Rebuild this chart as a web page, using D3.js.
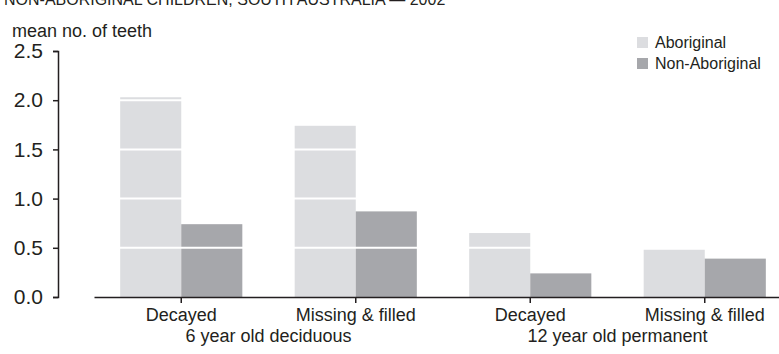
<!DOCTYPE html>
<html>
<head>
<meta charset="utf-8">
<script src="https://cdn.jsdelivr.net/npm/d3@7"></script>
<style>
  body { margin: 0; background: #fff; }
  text { font-family: "Liberation Sans", Arial, sans-serif; fill: #231f20; }
</style>
</head>
<body>
<div id="chart"></div>
<script>
const categorias = ["Decayed", "Missing & filled", "Decayed ", "Missing & filled "];
const grupos = ["6 year old deciduous", "12 year old permanent"];
const series = ["Aboriginal", "Non-Aboriginal"];
const aborigen = [2.03, 1.74, 0.65, 0.48];
const noAborigen = [0.74, 0.87, 0.24, 0.39];
const ticksY = [0, 0.5, 1.0, 1.5, 2.0, 2.5];

const width = 779, height = 354;
const colores = ["#dcdde0", "#a6a7ab"];

const svg = d3.select("#chart")
    .append("svg")
    .attr("width", width)
    .attr("height", height);

// titulo (cortado arriba, como en el original)
svg.append("text")
    .attr("x", 4)
    .attr("y", 5)
    .style("font-size", "16px")
    .text("NON-ABORIGINAL CHILDREN, SOUTH AUSTRALIA \u2014 2002");

svg.append("text")
    .attr("x", 12)
    .attr("y", 37)
    .style("font-size", "18px")
    .text("mean no. of teeth");

const y = d3.scaleLinear().domain([0, 2.5]).range([297, 51]);

const x0 = d3.scaleBand()
    .domain(categorias)
    .range([94, 792])
    .paddingInner(0.3)
    .paddingOuter(0.15);

const x1 = d3.scaleBand()
    .domain(series)
    .range([0, x0.bandwidth()]);

const datos = categorias.map((c, i) => ({cat: c, valores: [aborigen[i], noAborigen[i]]}));

// barras
svg.append("g")
    .selectAll("g")
    .data(datos)
    .enter()
    .append("g")
    .attr("transform", d => "translate(" + x0(d.cat) + ",0)")
    .selectAll("rect")
    .data(d => d.valores.map((v, j) => ({serie: series[j], v: v, j: j})))
    .enter()
    .append("rect")
    .attr("x", d => x1(d.serie))
    .attr("width", x1.bandwidth())
    .attr("y", d => y(d.v))
    .attr("height", d => y(0) - y(d.v))
    .style("fill", d => colores[d.j]);

// lineas blancas de rejilla sobre las barras
svg.append("g")
    .selectAll("line")
    .data(ticksY.slice(1, 5))
    .enter()
    .append("line")
    .attr("x1", 60)
    .attr("x2", width)
    .attr("y1", d => y(d))
    .attr("y2", d => y(d))
    .style("stroke", "#fff")
    .style("stroke-width", 2);

// eje Y
const ejeY = svg.append("g")
    .attr("transform", "translate(58,0)")
    .call(d3.axisLeft(y).tickValues(ticksY).tickFormat(d3.format(".1f")).tickSize(5).tickSizeOuter(5).tickPadding(10));
ejeY.selectAll("text").style("font-size", "21px").style("font-family", "Liberation Sans, Arial, sans-serif").style("fill", "#231f20");
ejeY.selectAll("line, path").style("stroke", "#231f20").style("stroke-width", 1.5);

// eje X
const ejeX = svg.append("g")
    .attr("transform", "translate(0,297)")
    .call(d3.axisBottom(x0).tickSize(6).tickSizeOuter(0).tickFormat(""));
ejeX.selectAll("line, path").style("stroke", "#231f20").style("stroke-width", 1.5);

svg.append("g")
    .selectAll("text")
    .data(categorias)
    .enter()
    .append("text")
    .attr("x", d => x0(d) + x0.bandwidth() / 2)
    .attr("y", 321)
    .attr("text-anchor", "middle")
    .style("font-size", "18px")
    .text(d => d.trim());

svg.append("g")
    .selectAll("text")
    .data(grupos)
    .enter()
    .append("text")
    .attr("x", (d, i) => (x0(categorias[2 * i]) + x0(categorias[2 * i + 1])) / 2 + x0.bandwidth() / 2)
    .attr("y", 342)
    .attr("text-anchor", "middle")
    .style("font-size", "18px")
    .text(d => d);

// leyenda
const leyenda = svg.append("g").attr("id", "leyenda");
leyenda.selectAll("rect")
    .data(series)
    .enter()
    .append("rect")
    .attr("x", 637)
    .attr("y", (d, i) => 37 + i * 21)
    .attr("width", 11)
    .attr("height", 11)
    .style("fill", (d, i) => colores[i]);
leyenda.selectAll("text")
    .data(series)
    .enter()
    .append("text")
    .attr("x", 655)
    .attr("y", (d, i) => 48 + i * 21)
    .style("font-size", "16px")
    .text(d => d);
</script>
</body>
</html>
